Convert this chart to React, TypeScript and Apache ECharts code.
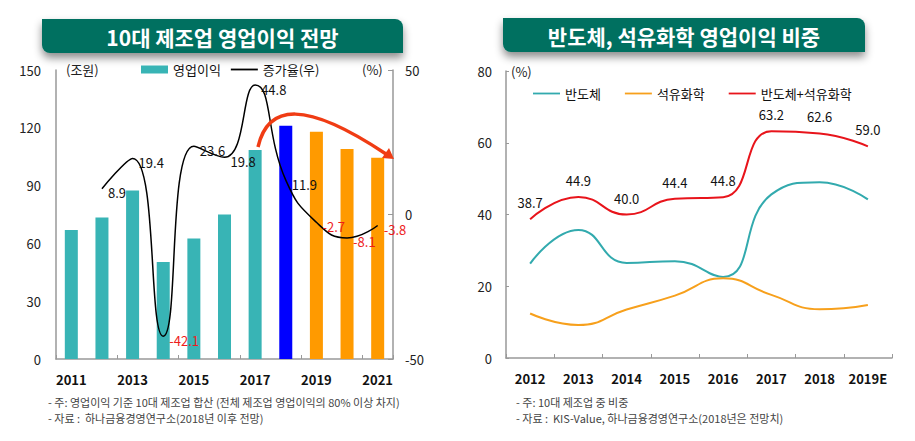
import React, { useEffect, useRef } from "react";
import * as echarts from "echarts";

// Left chart data
const leftYears = ["2011", "2012", "2013", "2014", "2015", "2016", "2017", "2018", "2019", "2020", "2021"];
const operatingProfit = [67, 73.5, 87.5, 50.3, 62.5, 75, 108.5, 121, 118, 109, 104.5];
const growthRate: (number | null)[] = [null, 8.9, 19.4, -42.1, 23.6, 19.8, 44.8, 11.9, -2.7, -8.1, -3.8];

// Right chart data
const rightYears = ["2012", "2013", "2014", "2015", "2016", "2017", "2018", "2019E"];
const semiconductor = [26.3, 35.7, 26.5, 27.0, 22.6, 45.6, 49.0, 44.2];
const petrochemical = [12.4, 9.2, 13.5, 17.4, 22.2, 17.6, 13.6, 14.8];
const combined = [38.7, 44.9, 40.0, 44.4, 44.8, 63.2, 62.6, 59.0];

const FONT = "'Noto Sans CJK KR', 'Noto Sans', sans-serif";
const TEAL_BAR = "#38b4b5";
const BLUE_BAR = "#0000ff";
const ORANGE_BAR = "#ff9a00";
const BANNER = "#007060";
const AXIS = "#999999";
const LINE_ICON = "path://M0,0H30V2H0Z";

export default function App() {
  const ref = useRef<HTMLDivElement>(null);

  useEffect(() => {
    if (!ref.current) return;
    const chart = echarts.init(ref.current, undefined, { renderer: "svg" });

    const barData = operatingProfit.map((v, i) => {
      const y = leftYears[i];
      let color = TEAL_BAR;
      if (y === "2018") color = BLUE_BAR;
      else if (Number(y) >= 2019) color = ORANGE_BAR;
      return { value: v, itemStyle: { color } };
    });

    const growthData = growthRate.map((v) =>
      v === null
        ? null
        : { value: v, label: { color: v < 0 ? "#ee1c1c" : "#111" } }
    );

    const banner = (x: number, y: number, w: number, h: number, text: string, fs: number) => ({
      type: "group",
      children: [
        {
          type: "rect",
          shape: { x, y, width: w, height: h, r: [0, 8, 0, 8] },
          style: {
            fill: BANNER,
            shadowBlur: 8,
            shadowOffsetY: 5,
            shadowColor: "rgba(0,0,0,0.45)",
          },
        },
        {
          type: "text",
          x: x + w / 2,
          y: y + h / 2 + 1,
          style: {
            text,
            fill: "#ffffff",
            font: `bold ${fs}px ${FONT}`,
            align: "center",
            verticalAlign: "middle",
          },
        },
      ],
    });

    const smallText = (x: number, y: number, text: string, fs = 13, color = "#222", align = "left") => ({
      type: "text",
      x,
      y,
      style: { text, fill: color, font: `${fs}px ${FONT}`, align, verticalAlign: "middle" },
    });

    chart.setOption({
      animation: false,
      backgroundColor: "#ffffff",
      textStyle: { fontFamily: FONT },
      grid: [
        { left: 56, top: 70, width: 337, height: 289 },
        { left: 506, top: 71, width: 386, height: 287 },
      ],
      legend: [
        {
          left: 136,
          top: 58,
          itemWidth: 27,
          itemHeight: 8,
          itemGap: 10,
          textStyle: { fontSize: 13, color: "#111", fontFamily: FONT },
          data: [
            { name: "영업이익", icon: "rect" },
            { name: "증가율(우)", icon: LINE_ICON },
          ],
        },
        {
          left: 528,
          top: 82,
          itemWidth: 27,
          itemHeight: 8,
          itemGap: 24,
          textStyle: { fontSize: 13, color: "#111", fontFamily: FONT },
          data: [
            { name: "반도체", icon: LINE_ICON },
            { name: "석유화학", icon: LINE_ICON },
            { name: "반도체+석유화학", icon: LINE_ICON },
          ],
        },
      ],
      xAxis: [
        {
          type: "category",
          gridIndex: 0,
          data: leftYears,
          boundaryGap: true,
          axisLine: { lineStyle: { color: AXIS, width: 1.5 } },
          axisTick: { show: true, inside: true, length: 4, interval: 1, lineStyle: { color: AXIS } },
          axisLabel: { interval: 1, margin: 14, fontSize: 13, fontWeight: "bold", color: "#111", fontFamily: FONT },
        },
        {
          type: "category",
          gridIndex: 1,
          data: rightYears,
          boundaryGap: true,
          axisLine: { lineStyle: { color: AXIS, width: 1.5 } },
          axisTick: { show: true, inside: true, length: 4, interval: 0, lineStyle: { color: AXIS } },
          axisLabel: { interval: 0, margin: 14, fontSize: 13, fontWeight: "bold", color: "#111", fontFamily: FONT },
        },
      ],
      yAxis: [
        {
          type: "value",
          gridIndex: 0,
          min: 0,
          max: 150,
          interval: 30,
          position: "left",
          splitLine: { show: false },
          axisLine: { show: true, lineStyle: { color: AXIS, width: 1.5 } },
          axisTick: { show: false },
          axisLabel: { margin: 15, fontSize: 13, color: "#222", fontFamily: FONT },
        },
        {
          type: "value",
          gridIndex: 0,
          min: -50,
          max: 50,
          interval: 50,
          position: "right",
          splitLine: { show: false },
          axisLine: { show: true, lineStyle: { color: AXIS, width: 1.5 } },
          axisTick: { show: true, inside: true, length: 5, lineStyle: { color: AXIS } },
          axisLabel: { margin: 12, fontSize: 13, color: "#222", fontFamily: FONT },
        },
        {
          type: "value",
          gridIndex: 1,
          min: 0,
          max: 80,
          interval: 20,
          position: "left",
          splitLine: { show: false },
          axisLine: { show: true, lineStyle: { color: AXIS, width: 1.5 } },
          axisTick: { show: true, inside: true, length: 3, lineStyle: { color: AXIS } },
          axisLabel: { margin: 14, fontSize: 13, color: "#222", fontFamily: FONT },
        },
      ],
      series: [
        {
          name: "영업이익",
          type: "bar",
          xAxisIndex: 0,
          yAxisIndex: 0,
          data: barData,
          barWidth: 13,
          itemStyle: { color: TEAL_BAR },
          z: 2,
        },
        {
          name: "증가율(우)",
          type: "line",
          xAxisIndex: 0,
          yAxisIndex: 1,
          data: growthData,
          smooth: 0.5,
          symbol: "circle",
          symbolSize: 0,
          showSymbol: true,
          connectNulls: false,
          itemStyle: { color: "#000" },
          lineStyle: { color: "#000", width: 1.5 },
          label: {
            show: true,
            position: "right",
            distance: 6,
            offset: [0, 4],
            fontSize: 13,
            fontFamily: FONT,
            formatter: (p: any) => Number(p.value).toFixed(1),
          },
          z: 3,
        },
        {
          name: "반도체",
          type: "line",
          xAxisIndex: 1,
          yAxisIndex: 2,
          data: semiconductor,
          smooth: 0.5,
          symbol: "none",
          itemStyle: { color: "#32aaae" },
          lineStyle: { color: "#32aaae", width: 2 },
        },
        {
          name: "석유화학",
          type: "line",
          xAxisIndex: 1,
          yAxisIndex: 2,
          data: petrochemical,
          smooth: 0.5,
          symbol: "none",
          itemStyle: { color: "#f7a01c" },
          lineStyle: { color: "#f7a01c", width: 2 },
        },
        {
          name: "반도체+석유화학",
          type: "line",
          xAxisIndex: 1,
          yAxisIndex: 2,
          data: combined,
          smooth: 0.5,
          symbol: "circle",
          symbolSize: 0,
          showSymbol: true,
          itemStyle: { color: "#e8141b" },
          lineStyle: { color: "#e8141b", width: 2 },
          label: {
            show: true,
            position: "top",
            distance: 10,
            fontSize: 13,
            color: "#111",
            fontFamily: FONT,
            formatter: (p: any) => Number(p.value).toFixed(1),
          },
        },
      ],
      graphic: [
        banner(42, 19, 361, 34, "10대 제조업 영업이익 전망", 21),
        banner(503, 18, 362, 34, "반도체, 석유화학 영업이익 비중", 21),
        smallText(66, 69, "(조원)"),
        smallText(362, 69, "(%)"),
        smallText(511, 71, "(%)"),
        // red forecast arrow (annotation)
        {
          type: "bezierCurve",
          shape: { x1: 258, y1: 147, cpx1: 268, cpy1: 104, cpx2: 305, cpy2: 100, x2: 386, y2: 154 },
          style: { stroke: "#f03c14", lineWidth: 3.5, fill: null },
          z: 10,
        },
        {
          type: "polygon",
          shape: { points: [[394, 159], [382, 158], [389, 148]] },
          style: { fill: "#f03c14" },
          z: 10,
        },
        smallText(48, 402, "- 주: 영업이익 기준 10대 제조업 합산 (전체 제조업 영업이익의 80% 이상 차지)", 11, "#444"),
        smallText(48, 418, "- 자료 :  하나금융경영연구소(2018년 이후 전망)", 11, "#444"),
        smallText(516, 402, "- 주: 10대 제조업 중 비중", 11, "#444"),
        smallText(516, 418, "- 자료 :  KIS-Value, 하나금융경영연구소(2018년은 전망치)", 11, "#444"),
      ],
    });

    return () => chart.dispose();
  }, []);

  return (
    <div
      ref={ref}
      style={{ position: "absolute", left: 0, top: 0, width: 915, height: 441 }}
    />
  );
}
